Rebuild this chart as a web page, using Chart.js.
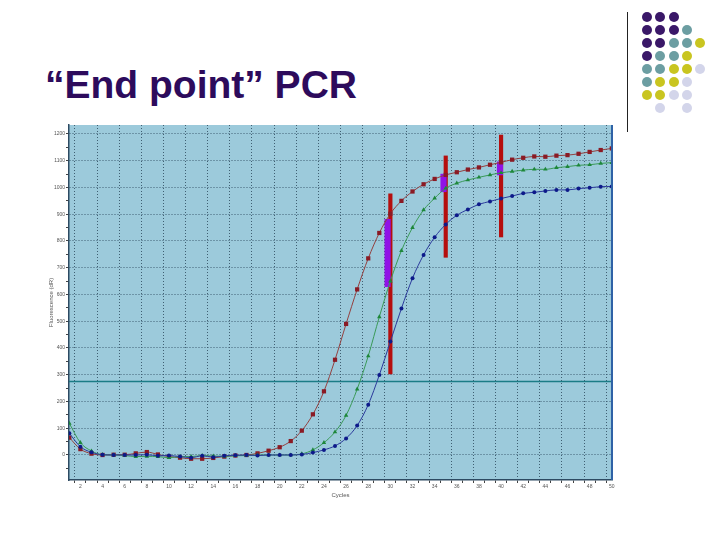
<!DOCTYPE html>
<html>
<head>
<meta charset="utf-8">
<script src="https://cdn.jsdelivr.net/npm/chart.js@4"></script>
<style>
  html, body { margin:0; padding:0; background:#fff; }
  body { width:720px; height:540px; position:relative; overflow:hidden; font-family:"Liberation Sans", Arial, sans-serif; }
  #title { position:absolute; left:45px; top:63px; font-size:39px; font-weight:bold; color:#2d0b5c; white-space:nowrap; }
  #rule { position:absolute; left:627px; top:12px; width:1px; height:120px; background:#222; }
  .dot { position:absolute; width:10px; height:10px; border-radius:50%; }
  #wrap { position:absolute; left:20px; top:115px; width:600px; height:395px; }
</style>
</head>
<body>
<div id="title">“End point” PCR</div>
<div id="rule"></div>
<div id="dots"></div>
<div id="wrap"><canvas id="pcr"></canvas></div>
<script>
const $ = (id) => document.getElementById(id);

// cycles 1..50
const cycles = [1,2,3,4,5,6,7,8,9,10,11,12,13,14,15,16,17,18,19,20,21,22,23,24,25,
  26,27,28,29,30,31,32,33,34,35,36,37,38,39,40,41,42,43,44,45,46,47,48,49,50];

const redVals = [65,22,5,0,1,1,6,11,2,-6,-10,-14,-14,-11,-6,-2,0,6,16,29,52,91,152,238,356,
  490,619,735,830,902,950,985,1012,1032,1047,1057,1067,1075,1085,1094,1104,1111,1116,1115,1119,1121,1126,1133,1140,1146];
const greenVals = [118,46,15,1,0,-2,-6,-5,-6,-10,-6,-6,-2,-4,-5,-3,-2,0,0,0,0,4,19,46,86,
  148,246,370,516,650,764,850,916,960,997,1016,1028,1038,1047,1055,1060,1065,1068,1068,1074,1078,1083,1085,1090,1093];
const blueVals = [81,31,10,1,0,0,0,1,-3,-2,-6,-10,-3,-8,-3,-1,0,-2,0,0,0,2,9,19,34,
  62,110,188,299,424,548,661,748,814,862,896,918,937,948,959,968,978,982,987,991,991,996,999,1003,1004];

const threshold = 275;

// end point markers: [cycle, low, high]
const redBars = [[30,303,976],[35,739,1118],[40,815,1196]];
const purpleBars = [[29.75,629,881],[34.8,984,1050],[39.9,1047,1096]];

const xMin = 0.97, xMax = 50.02;
const yMin = -93.5, yMax = 1233.6;
const xTicks = cycles;
const yTicks = [-50,0,50,100,150,200,250,300,350,400,450,500,550,600,650,700,750,800,850,900,950,1000,1050,1100,1150,1200];

// decoration dots (rows top to bottom), P purple, T teal, Y yellow, L lavender
const dotRows = ["PPP","PPPT","PPTTY","PTTY","TTYYL","TYYL","YYLL",".L.L"];
const dotColors = { P:"#3a1868", T:"#6c9ea2", Y:"#c9c520", L:"#d3d5ea" };

function drawDots(){
  const box = $("dots");
  dotRows.forEach((row, r) => {
    [...row].forEach((c, k) => {
      if(c === ".") return;
      const d = document.createElement("div");
      d.className = "dot";
      d.style.left = (642 + k*13.3) + "px";
      d.style.top = (12 + r*13) + "px";
      d.style.background = dotColors[c];
      box.appendChild(d);
    });
  });
}

const pts = (vals) => cycles.map((c,i) => ({ x:c, y:vals[i] }));
const bars = (list) => list.map(b => ({ x:b[0], y:[b[1], b[2]] }));

const plotBg = {
  id: "plotBg",
  beforeDraw(chart){
    const { ctx, chartArea:a } = chart;
    ctx.save();
    ctx.fillStyle = "#9ccadb";
    ctx.fillRect(a.left, a.top, a.right - a.left, a.bottom - a.top);
    ctx.restore();
  },
  afterDraw(chart){
    const { ctx, chartArea:a } = chart;
    ctx.save();
    ctx.strokeStyle = "#2f62a6";
    ctx.lineWidth = 2;
    ctx.beginPath();
    ctx.moveTo(a.right, a.top);
    ctx.lineTo(a.right, a.bottom);
    ctx.stroke();
    ctx.restore();
  }
};

function lineSet(vals, color, pointColor, style, radius){
  return {
    type: "line",
    data: pts(vals),
    borderColor: color,
    borderWidth: 1,
    pointStyle: style,
    pointRadius: radius,
    pointBackgroundColor: pointColor,
    pointBorderColor: pointColor,
    pointBorderWidth: 0,
    cubicInterpolationMode: "monotone",
    order: 0
  };
}

function render(){
  new Chart($("pcr"), {
    type: "line",
    data: {
      datasets: [
        {
          type: "line",
          data: [{ x:xMin, y:threshold }, { x:xMax, y:threshold }],
          borderColor: "#1b7c86",
          borderWidth: 1.5,
          pointRadius: 0,
          order: 5
        },
        {
          type: "bar",
          data: bars(redBars),
          backgroundColor: "#b50e0e",
          barThickness: 3.5,
          grouped: false,
          order: 3
        },
        {
          type: "bar",
          data: bars(purpleBars),
          backgroundColor: "#9012e6",
          barThickness: 5.5,
          grouped: false,
          order: 2
        },
        lineSet(blueVals, "#2b3a9c", "#0d1a8a", "circle", 2),
        lineSet(greenVals, "#3a9a58", "#1d873a", "triangle", 2.6),
        lineSet(redVals, "#94403f", "#8a1a24", "rect", 3)
      ]
    },
    options: {
      responsive: true,
      maintainAspectRatio: false,
      animation: false,
      layout: { padding: { left:0, right:8, top:10, bottom:0 } },
      plugins: { legend: { display:false }, tooltip: { enabled:false } },
      scales: {
        x: {
          type: "linear",
          min: xMin,
          max: xMax,
          offset: false,
          afterBuildTicks: (s) => { s.ticks = xTicks.map(v => ({ value:v })); },
          afterFit: (s) => { s.height = 30; },
          ticks: {
            autoSkip: false,
            maxRotation: 0,
            padding: 1,
            color: "#555",
            font: { size:5, family:"Liberation Sans" },
            callback: (v) => (v % 2 === 0 ? String(v) : "")
          },
          grid: {
            color: (c) => (c.tick && c.tick.value % 2 === 0 ? "#3f5f72" : "rgba(0,0,0,0)"),
            lineWidth: 1,
            tickLength: 3,
            tickColor: "#444"
          },
          border: { color:"#2d4a62", width:1.5, dash:[1,2] },
          title: {
            display: true,
            text: "Cycles",
            color: "#555",
            font: { size:6, family:"Liberation Sans" },
            padding: { top:0, bottom:11.4 }
          }
        },
        y: {
          type: "linear",
          min: yMin,
          max: yMax,
          afterBuildTicks: (s) => { s.ticks = yTicks.map(v => ({ value:v })); },
          afterFit: (s) => { s.width = 49; },
          ticks: {
            autoSkip: false,
            padding: 1,
            color: "#555",
            font: { size:5, family:"Liberation Sans" },
            callback: (v) => (v % 100 === 0 && v >= 0 ? String(v) : "")
          },
          grid: {
            color: (c) => (c.tick && c.tick.value % 100 === 0 && c.tick.value >= 0 ? "#3f5f72" : "rgba(0,0,0,0)"),
            lineWidth: 1,
            tickLength: 3,
            tickColor: "#444"
          },
          border: { color:"#2d4a62", width:1.5, dash:[1,2] },
          title: {
            display: true,
            text: "Fluorescence (dR)",
            color: "#555",
            font: { size:6, family:"Liberation Sans" },
            padding: { top:28, bottom:0 }
          }
        }
      }
    },
    plugins: [plotBg]
  });
}

document.addEventListener("DOMContentLoaded", () => {
  drawDots();
  render();
});
</script>
</body>
</html>
